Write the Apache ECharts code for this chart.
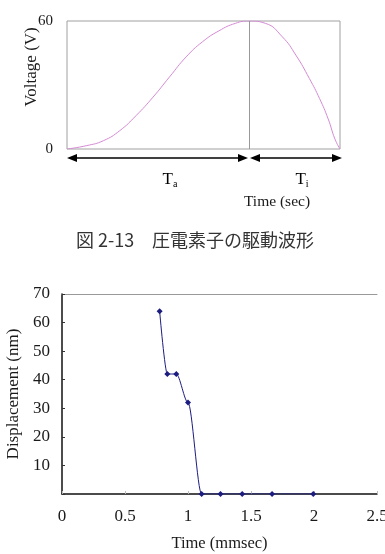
<!DOCTYPE html>
<html>
<head>
<meta charset="utf-8">
<script src="https://cdn.jsdelivr.net/npm/echarts@6/dist/echarts.min.js"></script>
<style>
html, body { margin: 0; padding: 0; background: #fff; }
#main { width: 385px; height: 554px; }
</style>
</head>
<body>
<div id="main"></div>
<script>
// 上: 駆動波形 (読み取り値)
var waveTime = [0, 0.218, 0.4, 0.58, 0.76, 0.945, 1.127, 1.31, 1.49, 1.67, 1.85, 2.0, 2.18, 2.366, 2.515, 2.664, 2.776, 2.87, 2.944, 3.0];
var waveVolt = [0, 1.6, 3.9, 8.6, 15.7, 24.3, 33.8, 43.2, 50.3, 55.4, 58.9, 60, 58.9, 52.6, 44, 33, 23.6, 14.1, 4.7, 0];
var waveSplit = 2;      // Ta / Ti の境目
// 下: 変位
var dispTime = [0.775, 0.836, 0.907, 1.0, 1.108, 1.258, 1.43, 1.667, 1.994];
var dispNm = [64, 42, 42, 32, 0, 0, 0, 0, 0];

var serif = "'Liberation Serif', 'Times New Roman', serif";
var ink = '#1a1a1a';

function pairs(xs, ys) {
  return xs.map(function (x, i) { return [x, ys[i]]; });
}

var chart = echarts.init(document.getElementById('main'));

var option = {
  animation: false,
  grid: [
    { left: 67, top: 21, width: 273, height: 128, outerBoundsMode: 'none', show: true, borderColor: '#a0a0a0', borderWidth: 1 },
    { left: 62, top: 294, right: 8, height: 200, outerBoundsMode: 'none' }
  ],
  xAxis: [
    { gridIndex: 0, type: 'value', min: 0, max: 3, show: false },
    {
      gridIndex: 1, type: 'value', min: 0, max: 2.5, interval: 0.5,
      name: 'Time (mmsec)', nameLocation: 'middle', nameGap: 41,
      nameTextStyle: { fontFamily: serif, fontSize: 16.5, color: ink },
      axisLine: { lineStyle: { color: '#111', width: 1.5 } },
      axisTick: { inside: true, length: 3, lineStyle: { color: '#bbb' } },
      axisLabel: { margin: 14, fontFamily: serif, fontSize: 17, color: ink },
      splitLine: { show: false }
    },
    {
      gridIndex: 1, type: 'value', min: 0, max: 2.5, position: 'top',
      axisLine: { lineStyle: { color: '#999', width: 1 } },
      axisTick: { show: false }, axisLabel: { show: false }, splitLine: { show: false }
    }
  ],
  yAxis: [
    {
      gridIndex: 0, type: 'value', min: 0, max: 60, interval: 60,
      axisLine: { show: false }, axisTick: { show: false }, splitLine: { show: false },
      axisLabel: { margin: 14, fontFamily: serif, fontSize: 15, color: ink }
    },
    {
      gridIndex: 1, type: 'value', min: 0, max: 70, interval: 10,
      name: 'Displacement (nm)', nameLocation: 'middle', nameGap: 40, nameRotate: 90,
      nameTextStyle: { fontFamily: serif, fontSize: 17, color: ink },
      axisLine: { show: true, lineStyle: { color: '#111', width: 1.5 } },
      axisTick: { show: true, inside: true, length: 3, lineStyle: { color: '#333' } },
      axisLabel: {
        margin: 12, fontFamily: serif, fontSize: 17, color: ink,
        formatter: function (v) { return v === 0 ? '' : v; }
      },
      splitLine: { show: false }
    }
  ],
  series: [
    {
      type: 'line', xAxisIndex: 0, yAxisIndex: 0,
      data: pairs(waveTime, waveVolt),
      smooth: true, showSymbol: false,
      lineStyle: { color: '#d48ad4', width: 1 },
      markLine: {
        silent: true, symbol: 'none', label: { show: false },
        lineStyle: { color: '#999', width: 1, type: 'solid' },
        data: [{ xAxis: waveSplit }]
      }
    },
    {
      type: 'line', xAxisIndex: 1, yAxisIndex: 1,
      data: pairs(dispTime, dispNm),
      smooth: 0.3, smoothMonotone: 'x',
      symbol: 'diamond', symbolSize: 6,
      itemStyle: { color: '#1c1c80' },
      lineStyle: { color: '#1c1c80', width: 1 }
    }
  ]
};
chart.setOption(option);

// 矢印と注記は軸の座標から位置を求める
var p0 = chart.convertToPixel({ gridIndex: 0 }, [0, 0]);
var pS = chart.convertToPixel({ gridIndex: 0 }, [waveSplit, 0]);
var p3 = chart.convertToPixel({ gridIndex: 0 }, [3, 0]);
var ay = p0[1] + 9;

function arrow(x1, x2, y) {
  return [
    { type: 'line', shape: { x1: x1 + 6, y1: y, x2: x2 - 6, y2: y }, style: { stroke: '#000', lineWidth: 1.5 } },
    { type: 'polygon', shape: { points: [[x1, y], [x1 + 10, y - 4], [x1 + 10, y + 4]] }, style: { fill: '#000' } },
    { type: 'polygon', shape: { points: [[x2, y], [x2 - 10, y - 4], [x2 - 10, y + 4]] }, style: { fill: '#000' } }
  ];
}

var richT = {
  t: { fontFamily: serif, fontSize: 17, color: ink },
  s: { fontFamily: serif, fontSize: 10, color: ink, padding: [9, 0, 0, 0] }
};

var graphics = [].concat(
  arrow(p0[0], pS[0] - 1, ay),
  arrow(pS[0] + 1, p3[0] + 2, ay),
  [
    { type: 'text', x: 170, y: 180, style: { text: '{t|T}{s|a}', rich: richT, align: 'center', verticalAlign: 'middle' } },
    { type: 'text', x: 302, y: 180, style: { text: '{t|T}{s|i}', rich: richT, align: 'center', verticalAlign: 'middle' } },
    { type: 'text', x: 277, y: 202, style: { text: 'Time (sec)', fontFamily: serif, fontSize: 15.5, fill: ink, align: 'center', verticalAlign: 'middle' } },
    { type: 'text', x: 32, y: 67, rotation: Math.PI / 2, style: { text: 'Voltage (V)', fontFamily: serif, fontSize: 17, fill: ink, align: 'center', verticalAlign: 'middle' } },
    { type: 'text', x: 195, y: 240, style: { text: '図 2-13　圧電素子の駆動波形', fontFamily: "'Noto Sans CJK JP', sans-serif", fontSize: 18, fill: '#333', align: 'center', verticalAlign: 'middle' } }
  ]
);
chart.setOption({ graphic: graphics });
</script>
</body>
</html>
